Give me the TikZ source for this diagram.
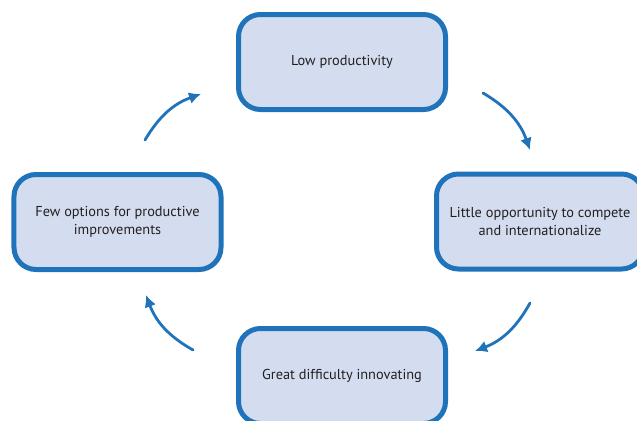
\documentclass[tikz,border=0pt]{standalone}
\usepackage{fontspec}
\setmainfont{PT Sans}
\usetikzlibrary{arrows.meta}
\definecolor{cycleblue}{RGB}{31,115,186}
\definecolor{cyclefill}{RGB}{212,221,239}
\definecolor{cycletext}{RGB}{35,31,32}
\tikzset{
	stage/.style={draw=cycleblue, fill=cyclefill, line width=5bp, rounded corners=22bp,
		minimum width=207bp, minimum height=95bp, align=center, text=cycletext,
		font=\fontsize{14.4}{18}\selectfont},
	flow/.style={draw=cycleblue, line width=2.8bp, line cap=round, -{Latex[length=12bp,width=12bp]}}
}
\begin{document}
\begin{tikzpicture}[x=1bp, y=-1bp]
		\useasboundingbox (0,0) rectangle (637,420);
		\node[stage] (low) at (342,62) {Low productivity};
		\node[stage] (compete) at (540,221.5) {Little opportunity to compete\\and internationalize};
		\node[stage] (innov) at (342,376) {Great difficulty innovating};
		\node[stage] (options) at (117.5,222) {Few options for productive\\improvements};
		\path (483,93) coordinate (a1) (530,150) coordinate (a2)
		(530,303) coordinate (b1) (475,351) coordinate (b2)
		(193,350) coordinate (c1) (146,295) coordinate (c2)
		(145,140) coordinate (d1) (201,94) coordinate (d2)
		;
		\foreach \s/\e in {a1/a2,b1/b2,c1/c2,d1/d2}{
			\draw[flow] (\s) to[bend left=20] (\e);}
		\end{tikzpicture}
\end{document}
